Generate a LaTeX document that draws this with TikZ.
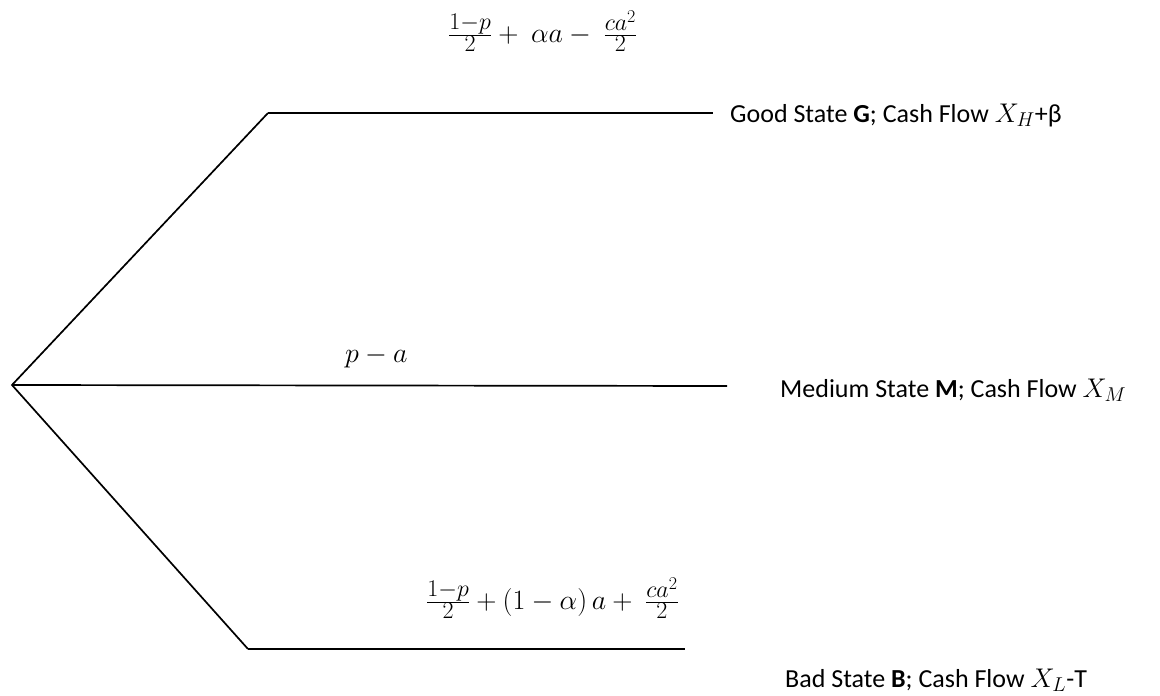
\RequirePackage{fix-cm}
\documentclass[tikz,border=0pt]{standalone}
\usepackage{fontspec}
\setmainfont{Carlito}
\DeclareMathSizes{28}{28}{24}{18}
\DeclareMathSizes{26}{27}{20}{14}
\begin{document}
\begin{tikzpicture}[x=1pt,y=-1pt,
  branch/.style={line width=1.7pt},
  lbl/.style={inner sep=0pt,anchor=base west,font=\fontsize{26}{31}\selectfont},
  frm/.style={inner sep=0pt,anchor=base west,font=\fontsize{28}{34}\selectfont}]
\useasboundingbox (0,0) rectangle (1160,696);
\coordinate (root) at (12,385);
\coordinate (gt) at (268,113);
\coordinate (ge) at (713,113);
\coordinate (me) at (727,386);
\coordinate (bt) at (248,649);
\coordinate (be) at (685,649);
\draw[branch,line join=miter] (gt) -- (root) -- (bt);
\draw[branch] (gt) -- (ge);
\draw[branch] (root) -- (me);
\draw[branch] (bt) -- (be);
\node[lbl] (good) at (730,122) {Good State \textbf{G}; Cash Flow $X_H$+β};
\node[lbl] (med) at (780,397) {Medium State \textbf{M}; Cash Flow $X_M$};
\node[lbl] (bad) at (785,687) {Bad State \textbf{B}; Cash Flow $X_L$-T};
\node[frm] (ptop) at (448,42) {$\frac{1-p}{2}+\ \alpha a-\ \frac{ca^2}{2}$};
\node[frm] (pmid) at (345,362) {$p-a$};
\node[frm] (pbot) at (426,609) {$\frac{1-p}{2}+(1-\alpha)\,a+\ \frac{ca^2}{2}$};
\end{tikzpicture}
\end{document}
